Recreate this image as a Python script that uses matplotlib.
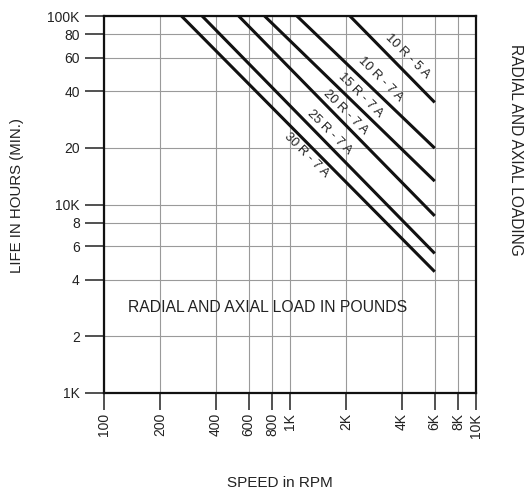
import matplotlib
matplotlib.use("Agg")
import matplotlib.pyplot as plt
import matplotlib.transforms as mtransforms
import numpy as np

plt.rcParams['font.family'] = ['Liberation Sans', 'DejaVu Sans']

# load curves: start speed at 100K hours, end life at 6K rpm
names = ["30 R - 7 A", "25 R - 7 A", "20 R - 7 A", "15 R - 7 A", "10 R - 7 A", "10 R - 5 A"]
start_speed = [261, 337, 530, 730, 1090, 2100]
start_life = [100000, 100000, 100000, 100000, 100000, 100000]
end_speed = [6000, 6000, 6000, 6000, 6000, 6000]
end_life = [4400, 5500, 8700, 13300, 19900, 34800]

# where along each line (speed) the label sits, and vertical offset in px (+ = above)
label_x = [1230, 1640, 1980, 2380, 3050, 4260]
label_dy = [-13, 14, 12, 13, 16, 18]

x_ticks = [100, 200, 400, 600, 800, 1000, 2000, 4000, 6000, 8000, 10000]
x_labels = ["100", "200", "400", "600", "800", "1K", "2K", "4K", "6K", "8K", "10K"]
y_ticks = [1000, 2000, 4000, 6000, 8000, 10000, 20000, 40000, 60000, 80000, 100000]
y_labels = ["1K", "2", "4", "6", "8", "10K", "20", "40", "60", "80", "100K"]

fig = plt.figure(figsize=(5.27, 4.9), dpi=100)
ax = fig.add_axes([0.1973, 0.198, 0.7059, 0.7693])
ax.set_xscale('log')
ax.set_yscale('log')
ax.set_xlim(100, 10000)
ax.set_ylim(1000, 100000)

ax.minorticks_off()
ax.set_xticks(x_ticks)
ax.set_xticklabels(x_labels, rotation=90)
ax.set_yticks(y_ticks)
ax.set_yticklabels(y_labels)
ax.tick_params(axis='both', width=1.2, color='#333333',
               labelsize=10, labelcolor='#222222')
ax.tick_params(axis='y', length=13.5, pad=4)
ax.tick_params(axis='x', length=12.5, pad=2)

ax.grid(True, which='major', color='#9a9a9a', linewidth=0.8)
for s in ax.spines.values():
    s.set_linewidth(1.6)
    s.set_color('#111111')

for i in range(len(names)):
    xs = [start_speed[i], end_speed[i]]
    ys = [start_life[i], end_life[i]]
    ax.plot(xs, ys, color='#111111', linewidth=2.2, solid_capstyle='butt')
    # life on the line at the label speed (straight in log-log)
    ly = 10 ** np.interp(np.log10(label_x[i]), np.log10(xs), np.log10(ys))
    tr = mtransforms.offset_copy(ax.transData, fig=fig, x=0, y=label_dy[i] * 0.72, units='points')
    ax.text(label_x[i], ly, names[i], rotation=-45, ha='center', va='center',
            fontsize=9.3, color='#222222', rotation_mode='anchor', transform=tr)

ax.text(0.44, 0.228, "RADIAL AND AXIAL LOAD IN POUNDS", transform=ax.transAxes,
        ha='center', va='center', fontsize=11.3, color='#222222')

fig.text(0.033, 0.602, "LIFE IN HOURS (MIN.)", rotation=90, ha='center', va='center',
         fontsize=10.8, color='#222222')
fig.text(0.979, 0.694, "RADIAL AND AXIAL LOADING", rotation=-90, ha='center', va='center',
         fontsize=11.2, color='#222222')
fig.text(0.532, 0.014, "SPEED in RPM", ha='center', va='center',
         fontsize=11, color='#222222')

fig.savefig('out.png', dpi=100)
